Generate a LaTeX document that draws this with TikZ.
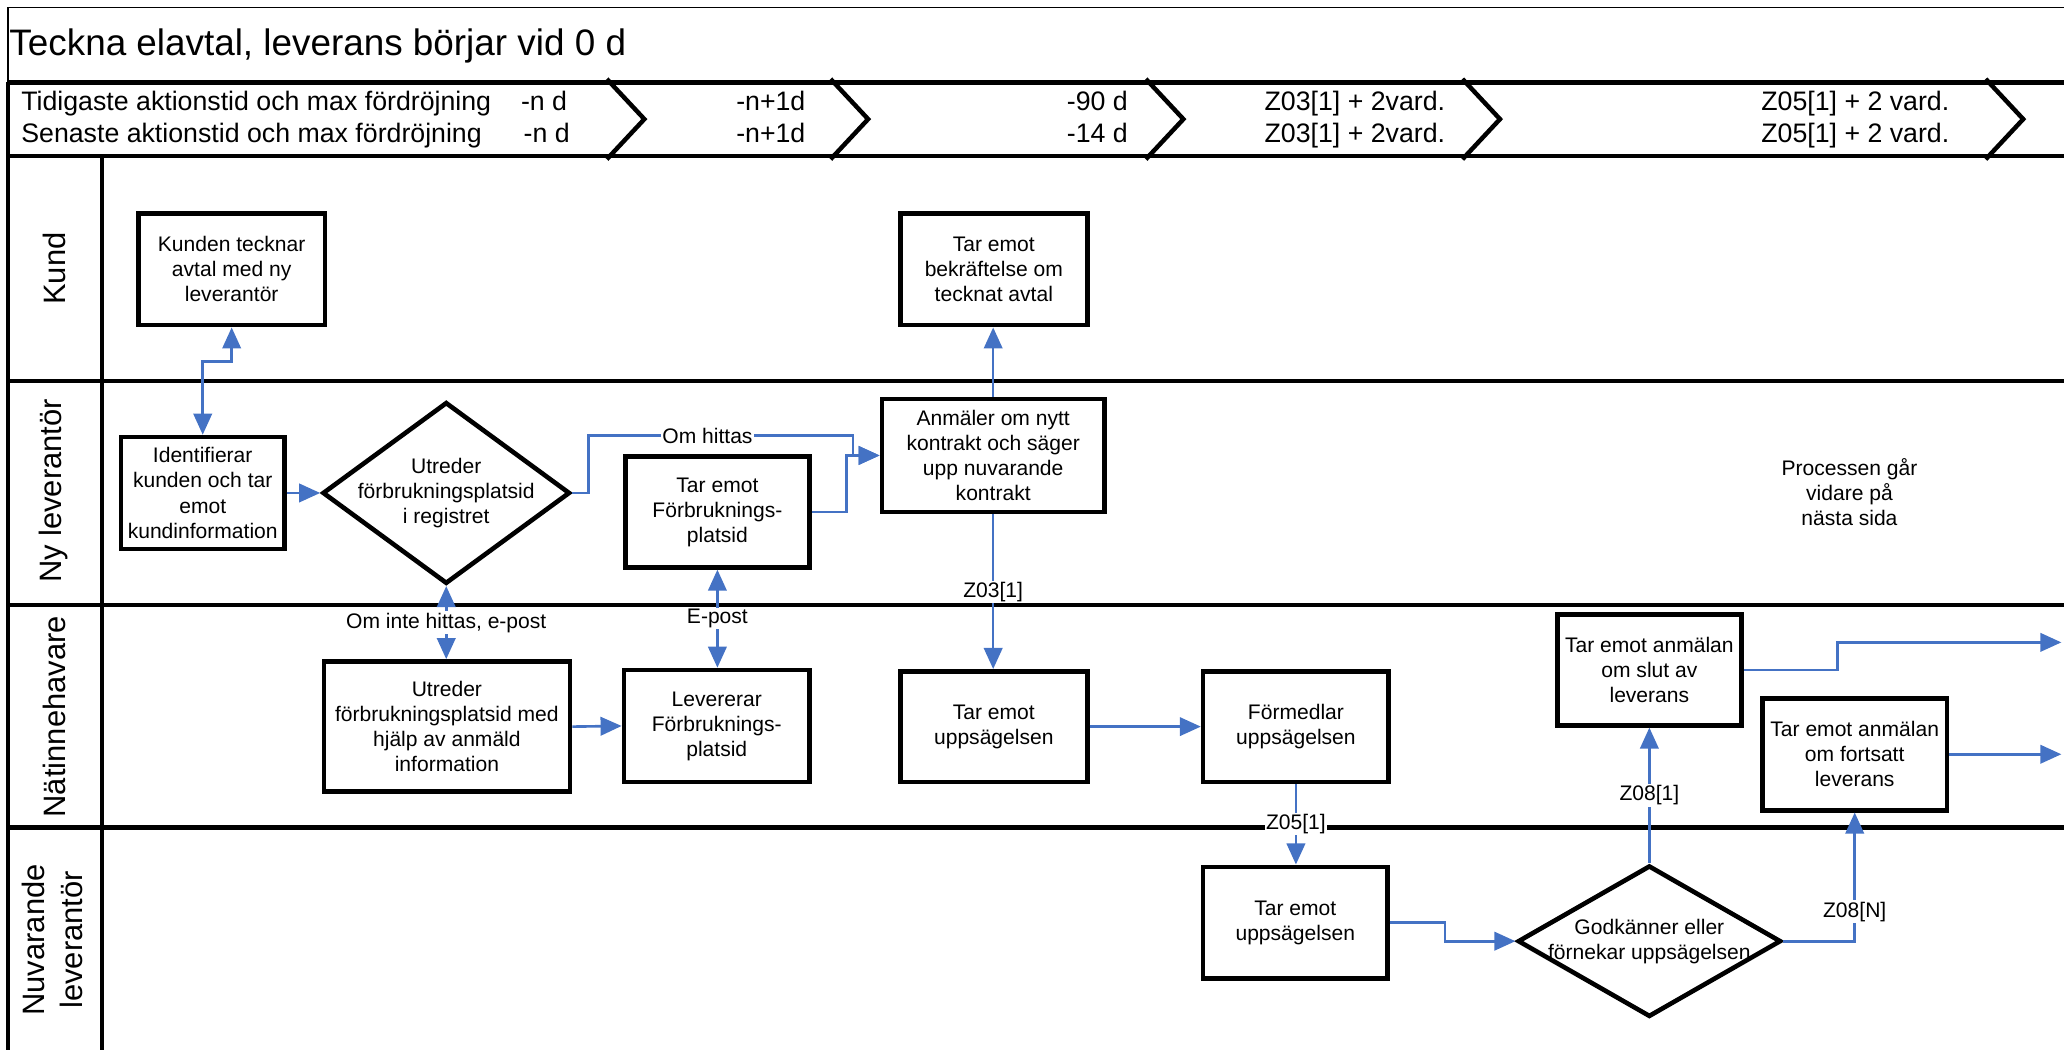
\documentclass[tikz,border=0pt]{standalone}
\usepackage{fontspec}
\setmainfont{Liberation Sans}
\usetikzlibrary{arrows.meta,shapes.geometric,calc}
\definecolor{flowblue}{HTML}{4472C4}
\begin{document}
\begin{tikzpicture}[x=1pt,y=-1pt,
  box/.style={draw, line width=3.5pt, align=center, inner sep=2pt, font=\fontsize{16}{19}\selectfont},
  dia/.style={draw, shape=diamond, line width=3.5pt, inner sep=0pt},
  txt/.style={align=center, inner sep=0pt, font=\fontsize{16}{19}\selectfont},
  lbl/.style={fill=white, inner sep=1pt, font=\fontsize{16}{19}\selectfont},
  hdr/.style={inner sep=0pt, font=\fontsize{20.3}{24}\selectfont},
  lanetxt/.style={rotate=90, align=center, inner sep=0pt, font=\fontsize{23.5}{29}\selectfont},
  laneline/.style={line width=3.4pt},
  flow/.style={draw=flowblue, line width=2pt, -{Triangle[length=16pt,width=14pt]}},
  dflow/.style={draw=flowblue, line width=2pt, {Triangle[length=16pt,width=14pt]}-{Triangle[length=16pt,width=14pt]}}
]
\useasboundingbox (0,0) rectangle (1568,797);
\clip (0,0) rectangle (1568,797);

% frame, title box and header band
\draw[line width=1pt] (6,5.5) -- (1580,5.5);
\draw[line width=1pt] (6,5.5) -- (6,62.5);
\draw[laneline] (6,62.5) -- (1580,62.5);
\draw[laneline] (6,118.5) -- (1580,118.5);
\draw[laneline] (6,62.5) -- (6,810);
\draw[laneline] (77.3,118.5) -- (77.3,810);
\draw[laneline] (6,289.5) -- (1580,289.5);
\draw[laneline] (6,459.5) -- (1580,459.5);
\draw[laneline] (6,628.5) -- (1580,628.5);
\foreach \cx in {461,631,870.5,1111,1508.5}{
  \draw[line width=3.4pt, line join=miter] (\cx,60) -- (\cx+28.5,90.5) -- (\cx,121);
}

\node[anchor=base west, inner sep=0pt, font=\fontsize{28}{32}\selectfont] (title) at (7,42) {Teckna elavtal, leverans börjar vid 0 d};

\node[hdr, anchor=base west] (h1a) at (16,84) {Tidigaste aktionstid och max fördröjning};
\node[hdr, anchor=base west] (h2a) at (16,108) {Senaste aktionstid och max fördröjning};
\node[hdr, anchor=base east] (h1b) at (431,84) {-n d};
\node[hdr, anchor=base east] (h2b) at (433,108) {-n d};
\node[hdr, anchor=base east] (h1c) at (612,84) {-n+1d};
\node[hdr, anchor=base east] (h2c) at (612,108) {-n+1d};
\node[hdr, anchor=base east] (h1d) at (857,84) {-90 d};
\node[hdr, anchor=base east] (h2d) at (857,108) {-14 d};
\node[hdr, anchor=base east] (h1e) at (1098,84) {Z03[1] + 2vard.};
\node[hdr, anchor=base east] (h2e) at (1098,108) {Z03[1] + 2vard.};
\node[hdr, anchor=base east] (h1f) at (1481,84) {Z05[1] + 2 vard.};
\node[hdr, anchor=base east] (h2f) at (1481,108) {Z05[1] + 2 vard.};

% lane labels
\node[lanetxt] (lk) at (41,204) {Kund};
\node[lanetxt] (ln) at (41,373) {Ny leverantör};
\node[lanetxt] (lnat) at (41.5,544.5) {Nätinnehavare};
\node[lanetxt] (lnuv) at (40,714) {Nuvarande\\leverantör};

% nodes
\node[box, minimum width=142pt, minimum height=85pt] (A) at (176,204.5) {Kunden tecknar\\avtal med ny\\leverantör};
\node[box, minimum width=124pt, minimum height=85pt] (B) at (154,374.5) {Identifierar\\kunden och tar\\emot\\kundinformation};
\node[dia, minimum width=188pt, minimum height=138pt] (C) at (339,374.5) {};
\node[txt] (Ct) at (C.center) {Utreder\\förbrukningsplatsid\\i registret};
\node[box, minimum width=140pt, minimum height=84pt] (D) at (545,389) {Tar emot\\Förbruknings-\\platsid};
\node[box, minimum width=142pt, minimum height=85pt] (E) at (755,204.5) {Tar emot\\bekräftelse om\\tecknat avtal};
\node[box, minimum width=169pt, minimum height=86pt] (F) at (754.5,346) {Anmäler om nytt\\kontrakt och säger\\upp nuvarande\\kontrakt};
\node[txt] (P) at (1405,374) {Processen går\\vidare på\\nästa sida};
\node[box, minimum width=187pt, minimum height=99pt] (G) at (339.5,552) {Utreder\\förbrukningsplatsid med\\hjälp av anmäld\\information};
\node[box, minimum width=141pt, minimum height=85pt] (H) at (544.5,551.5) {Levererar\\Förbruknings-\\platsid};
\node[box, minimum width=142pt, minimum height=84pt] (I) at (755,552) {Tar emot\\uppsägelsen};
\node[box, minimum width=141pt, minimum height=84pt] (J) at (984.5,552) {Förmedlar\\uppsägelsen};
\node[box, minimum width=140pt, minimum height=85pt] (K) at (984,701) {Tar emot\\uppsägelsen};
\node[dia, minimum width=200pt, minimum height=115pt] (L) at (1253,715) {};
\node[txt] (Lt) at (L.center) {Godkänner eller\\förnekar uppsägelsen};
\node[box, minimum width=140pt, minimum height=84pt] (M) at (1253,509) {Tar emot anmälan\\om slut av\\leverans};
\node[box, minimum width=140pt, minimum height=85pt] (N) at (1409,573) {Tar emot anmälan\\om fortsatt\\leverans};
\coordinate (outM) at (1566,488);
\coordinate (outN) at (1566,573);

% connectors
\draw[dflow] (A.south) -- ++(0,26) -| (B.north);
\draw[flow] (B.east) -- (C.west);
\draw[flow] (C.east) -| (447,331) -- node[lbl, pos=0.45] (lOm) {Om hittas} (648,331) |- (F.west);
\draw[flow] (D.east) -| (643,346) -- (F.west);
\draw[dflow] (C.south) -- node[lbl] (lOmInte) {Om inte hittas, e-post} (C.south |- G.north);
\draw[dflow] (D.south) -- node[lbl] (lEpost) {E-post} (D.south |- H.north);
\draw[flow] (G.east) -- (H.west);
\draw[flow] (F.north) -- (F.north |- E.south);
\draw[flow] (F.south) -- node[lbl] (lZ03) {Z03[1]} (F.south |- I.north);
\draw[flow] (I.east) -- (J.west);
\draw[flow] (J.south) -- node[lbl] (lZ05) {Z05[1]} (J.south |- K.north);
\draw[flow] (K.east) -- ++(42,0) |- (L.west);
\draw[flow] (L.north) -- node[lbl] (lZ08a) {Z08[1]} (L.north |- M.south);
\draw[flow] (L.east) -| node[lbl, pos=0.615] (lZ08n) {Z08[N]} (N.south);
\draw[flow] (M.east) -- ++(71,0) |- (outM);
\draw[flow] (N.east) -- (outN);
\end{tikzpicture}
\end{document}
